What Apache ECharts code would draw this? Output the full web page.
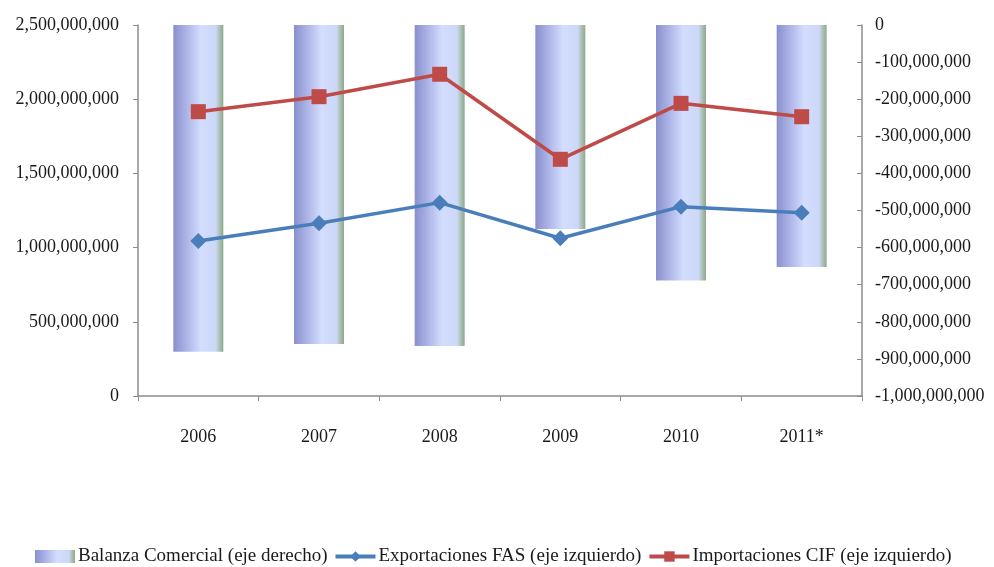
<!DOCTYPE html>
<html>
<head>
<meta charset="utf-8">
<title>Balanza Comercial</title>
<script src="https://cdn.jsdelivr.net/npm/echarts@6/dist/echarts.min.js"></script>
<style>
    html, body { margin: 0; padding: 0; background: #fff; }
    #chart { width: 994px; height: 567px; }
</style>
</head>
<body>
<div id="chart"></div>
<script>
// datos
var years = ['2006', '2007', '2008', '2009', '2010', '2011*'];
var balanza = [-881000000, -860000000, -865000000, -550000000, -689000000, -652000000];
var exportaciones = [1044000000, 1164000000, 1303000000, 1063000000, 1276000000, 1235000000];
var importaciones = [1916000000, 2017000000, 2168000000, 1595000000, 1972000000, 1882000000];

var fontName = '"Liberation Serif", "DejaVu Serif", serif';

function fmt(v) {
    return Number(v).toLocaleString('en-US');
}

var myChart = echarts.init(document.getElementById('chart'));

var barColor = new echarts.graphic.LinearGradient(0, 0, 1, 0, [
    { offset: 0, color: '#8a8fcc' },
    { offset: 0.3, color: '#b1b9ea' },
    { offset: 0.55, color: '#d3ddfd' },
    { offset: 0.85, color: '#ccd8f8' },
    { offset: 0.93, color: '#a9bfb0' },
    { offset: 1, color: '#8fa88f' }
]);

var option = {
    animation: false,
    textStyle: { fontFamily: fontName },
    grid: {
        left: 138,
        right: 132,
        top: 25,
        bottom: 171
    },
    legend: {
        left: 30,
        top: 542,
        itemWidth: 40,
        itemHeight: 13,
        itemGap: 6,
        lineStyle: { width: 4 },
        textStyle: { fontFamily: fontName, fontSize: 19, color: '#1a1a1a', padding: [0, 0, 0, -2] },
        data: [
            { name: 'Balanza Comercial (eje derecho)', icon: 'rect' },
            'Exportaciones FAS (eje izquierdo)',
            'Importaciones CIF (eje izquierdo)'
        ]
    },
    xAxis: {
        type: 'category',
        data: years,
        boundaryGap: true,
        axisLine: { lineStyle: { color: '#8c8c8c', width: 1.5 } },
        axisTick: { show: true, length: 5, lineStyle: { color: '#8c8c8c' } },
        axisLabel: { margin: 32, fontSize: 18, color: '#1a1a1a', fontFamily: fontName }
    },
    yAxis: [
        {
            type: 'value',
            position: 'left',
            min: 0,
            max: 2500000000,
            interval: 500000000,
            splitLine: { show: false },
            axisLine: { show: true, lineStyle: { color: '#8c8c8c', width: 1.5 } },
            axisTick: { show: true, length: 5, lineStyle: { color: '#8c8c8c' } },
            axisLabel: { formatter: fmt, fontSize: 18, color: '#1a1a1a', margin: 19, fontFamily: fontName }
        },
        {
            type: 'value',
            position: 'right',
            min: -1000000000,
            max: 0,
            interval: 100000000,
            splitLine: { show: false },
            axisLine: { show: true, lineStyle: { color: '#8c8c8c', width: 1.5 } },
            axisTick: { show: true, inside: true, length: 5, lineStyle: { color: '#8c8c8c' } },
            axisLabel: { formatter: fmt, fontSize: 18, color: '#1a1a1a', margin: 13, fontFamily: fontName }
        }
    ],
    series: [
        {
            name: 'Balanza Comercial (eje derecho)',
            type: 'bar',
            yAxisIndex: 1,
            barWidth: 50,
            data: balanza,
            itemStyle: { color: barColor }
        },
        {
            name: 'Exportaciones FAS (eje izquierdo)',
            type: 'line',
            yAxisIndex: 0,
            data: exportaciones,
            symbol: 'diamond',
            symbolSize: 16,
            lineStyle: { color: '#4a7ebb', width: 3.5 },
            itemStyle: { color: '#4a7ebb' }
        },
        {
            name: 'Importaciones CIF (eje izquierdo)',
            type: 'line',
            yAxisIndex: 0,
            data: importaciones,
            symbol: 'rect',
            symbolSize: 15,
            lineStyle: { color: '#be4b48', width: 3.5 },
            itemStyle: { color: '#be4b48' }
        }
    ]
};

myChart.setOption(option);
</script>
</body>
</html>
